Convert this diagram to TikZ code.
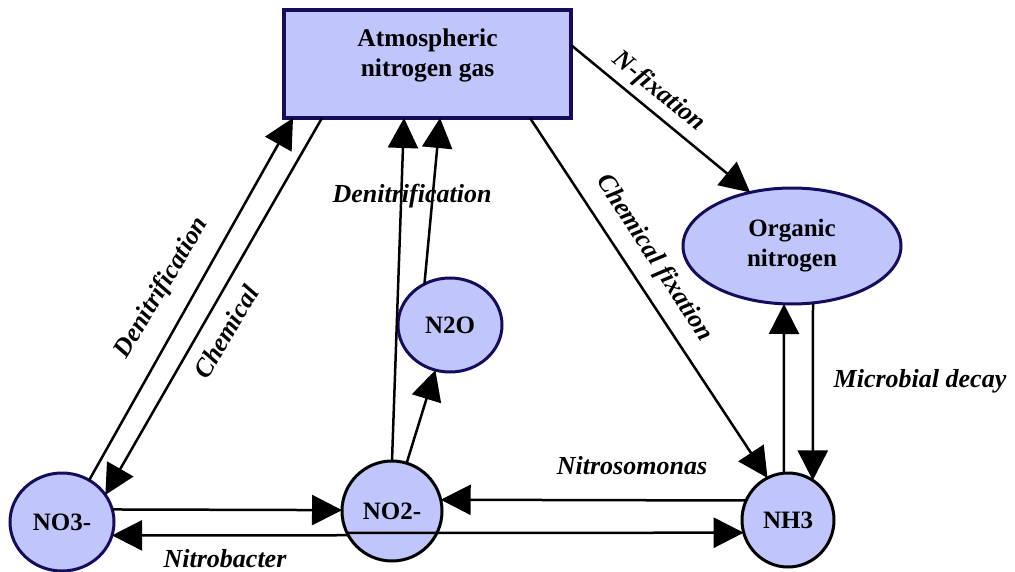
\documentclass[tikz,border=0pt]{standalone}
\usepackage{fontspec}
\setmainfont{Liberation Serif}
\usetikzlibrary{arrows.meta,shapes.geometric}
\definecolor{nfill}{RGB}{192,197,252}
\definecolor{navy}{RGB}{22,12,92}
\begin{document}
\begin{tikzpicture}[x=1pt,y=-1pt,
  every node/.style={inner sep=0pt,outer sep=0pt},
  nbox/.style={draw=navy,line width=4pt,fill=nfill,font=\fontsize{25.5}{30}\selectfont\bfseries,align=center},
  nell/.style={ellipse,draw=navy,line width=3pt,fill=nfill,font=\fontsize{25}{30}\selectfont\bfseries,align=center},
  nellb/.style={nell,draw=black},
  lab/.style={font=\fontsize{26}{30}\selectfont\bfseries\itshape},
  arr/.style={line width=2.5pt,-{Triangle[length=30pt,width=30pt]}},
  ln/.style={line width=2.5pt}]
\useasboundingbox (0,0) rectangle (1015,572);
% nodes
\node[nbox,minimum width=287pt,minimum height=108pt] (atm) at (427.5,64) {Atmospheric\\nitrogen gas\\[-8pt]\mbox{}};
\node[nell,minimum width=218pt,minimum height=116pt] (org) at (792,246) {Organic\\nitrogen};
\node[nell,minimum width=104pt,minimum height=98pt] (no3) at (62,522) {NO3-};
\node[nellb,minimum width=100pt,minimum height=100pt] (no2) at (392,511) {NO2-};
\node[nell,minimum width=104pt,minimum height=94pt] (n2o) at (450,325) {N2O};
\node[nellb,minimum width=92pt,minimum height=94pt] (nh3) at (788,520) {NH3};
% connectors
\draw[arr] (no3.57) -- ([xshift=9pt]atm.south west);
\draw[arr] ([xshift=38pt]atm.south west) -- (no3.32);
\draw[arr] (no2.90) -- ([xshift=120pt]atm.south west);
\draw[arr] (n2o.122) -- ([xshift=156pt]atm.south west);
\draw[arr] (no2.73) -- (n2o.252);
\draw[arr] ([yshift=19pt]atm.east) -- (org.128);
\draw[arr] ([xshift=246pt]atm.south west) -- (nh3.116);
\draw[arr] (nh3.95) -- ([xshift=-8pt]org.south);
\draw[arr] ([xshift=21pt]org.south) -- (nh3.58);
\draw[arr] (nh3.155) -- (no2.13);
\draw[arr] (no2.206) -- (nh3.196);
\draw[arr] (no3.14) -- (no2.179);
\draw[arr] (no2.209) -- (no3.345);
% labels
\node[lab,rotate=-39] (lnfix) at (659,92) {N-fixation};
\node[lab,rotate=-57] (lchfix) at (654,258) {Chemical fixation};
\node[lab,rotate=59] (lden1) at (162,288) {Denitrification};
\node[lab,rotate=59] (lchem) at (226,332) {Chemical};
\node[lab] (lden2) at (412,196) {Denitrification};
\node[lab] (lmic) at (920,381) {Microbial decay};
\node[lab] (lnso) at (632,466) {Nitrosomonas};
\node[lab] (lnbt) at (225,559) {Nitrobacter};
\end{tikzpicture}
\end{document}
